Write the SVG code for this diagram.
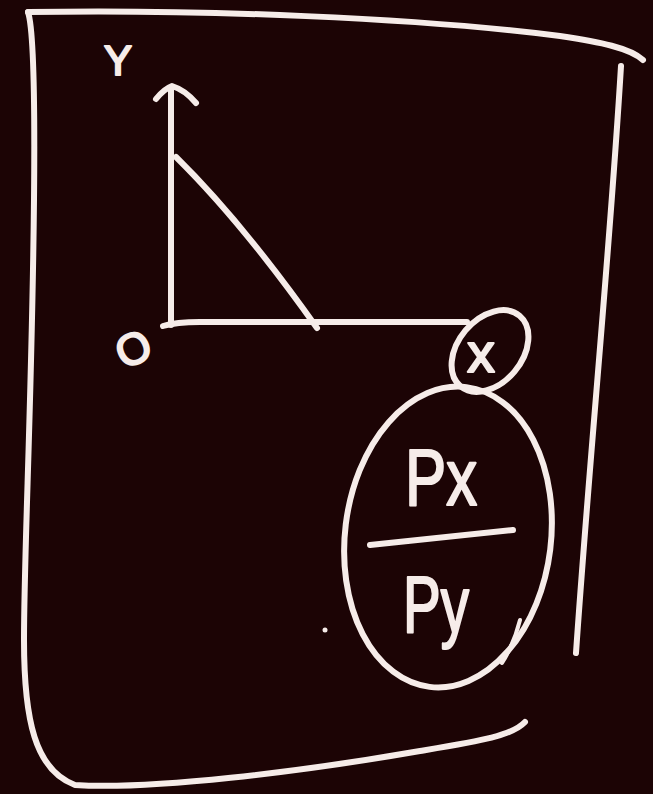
<svg xmlns="http://www.w3.org/2000/svg" width="653" height="794" viewBox="0 0 653 794">
  <style>
    .chalk { fill: none; stroke: #f6ece9; stroke-width: 6; stroke-linecap: round; stroke-linejoin: round; }
    .thin { fill: none; stroke: #f6ece9; stroke-width: 4; stroke-linecap: round; }
    .lbl { fill: #f6ece9; stroke: #f6ece9; stroke-width: 2.2; stroke-linejoin: round; font-family: "Liberation Sans", Arial, sans-serif; }
  </style>
  <rect x="0" y="0" width="653" height="794" fill="#1c0405"/>

  <g id="frame">
    <path class="chalk" d="M 28 12 C 200 9, 420 18, 560 36 C 600 42, 630 48, 643 60"/>
    <path class="chalk" d="M 28 12 C 34 30, 35 100, 34 200 C 32 400, 24 550, 24 640 C 24 720, 35 770, 75 785 C 150 790, 300 772, 420 751 C 480 741, 512 736, 525 722"/>
    <path class="chalk" d="M 621 66 C 610 250, 590 450, 576 653"/>
  </g>

  <g id="connectors">
    <path class="chalk" d="M 171 325 L 171 88"/>
    <path class="chalk" d="M 156 99 Q 164 89 172 86 Q 185 90 196 103"/>
    <path class="chalk" d="M 163 326 Q 176 322 200 322 L 467 322"/>
    <path class="chalk" d="M 176 157 Q 242 222 317 328"/>
  </g>

  <g id="label-y">
    <text class="lbl" x="118" y="75" font-size="42" text-anchor="middle">Y</text>
  </g>
  <g id="label-o">
    <text class="lbl" x="133" y="364" font-size="44" text-anchor="middle" transform="rotate(-25 133 348)">O</text>
  </g>

  <g id="node-x">
    <ellipse class="chalk" cx="490" cy="351" rx="46" ry="32" transform="rotate(-50 490 351)"/>
    <text class="lbl" x="481" y="372" font-size="55" text-anchor="middle">x</text>
  </g>

  <g id="node-ratio">
    <ellipse class="chalk" cx="448" cy="537" rx="103" ry="151" transform="rotate(7 448 537)"/>
    <path class="thin" d="M 520 620 Q 514 644 502 663"/>
    <path class="chalk" d="M 370 545 L 513 530"/>
    <text class="lbl" x="405" y="505" font-size="80" textLength="72" lengthAdjust="spacingAndGlyphs">Px</text>
    <text class="lbl" x="403" y="632" font-size="80" textLength="66" lengthAdjust="spacingAndGlyphs">Py</text>
  </g>

  <circle cx="325" cy="630" r="2.5" fill="#f6ece9"/>
</svg>
